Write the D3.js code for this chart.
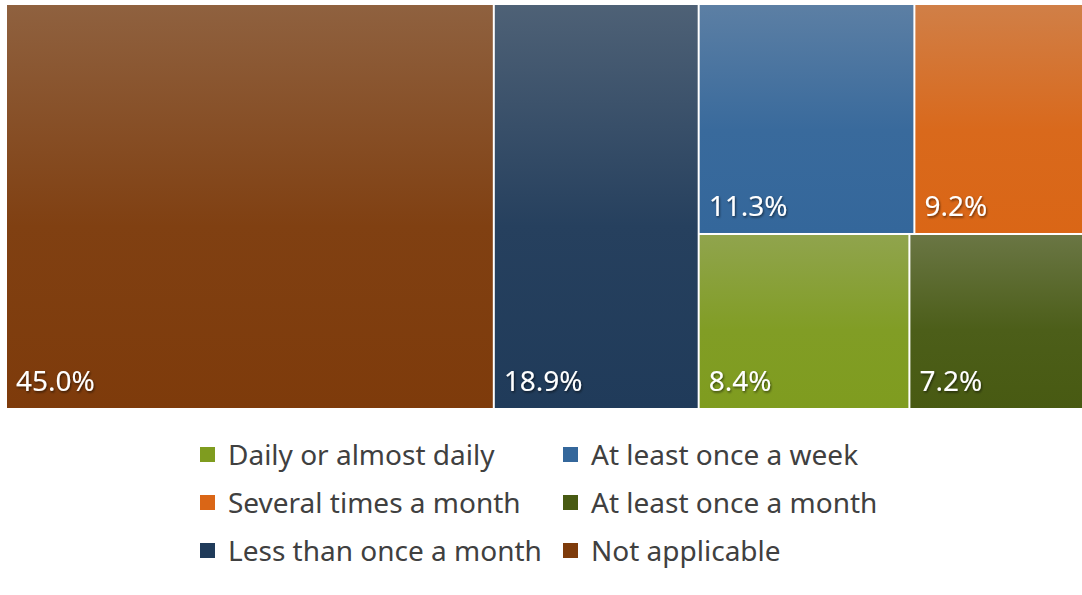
<!DOCTYPE html>
<html>
<head>
<meta charset="utf-8">
<script src="https://cdn.jsdelivr.net/npm/d3@7"></script>
<style>
  body { margin: 0; background: #fff; overflow: hidden; }
  svg { display: block; font-family: "Noto Sans", "Open Sans", sans-serif; }
</style>
</head>
<body>
<svg id="chart" width="1082" height="595"></svg>
<script>
// data
var categories = ["Daily or almost daily", "At least once a week", "Several times a month",
                  "At least once a month", "Less than once a month", "Not applicable"];
var values = [8.4, 11.3, 9.2, 7.2, 18.9, 45.0];
var colors = ["#7f9c1f", "#34679b", "#da6616", "#485a12", "#203b5a", "#7e3b0b"];
// how the cells are grouped in the picture (indices into categories)
var groups = [5, 4, [[1, 2], [0, 3]]];

var svg = d3.select("#chart");

// the plot runs a little past the right edge of the picture
var margin = {top: 5, left: 7, right: -7, bottom: 187};
var width = 1082 - margin.left - margin.right;
var height = 595 - margin.top - margin.bottom;

function toNode(g) {
    if (Array.isArray(g)) return {children: g.map(toNode)};
    return {name: categories[g], value: values[g], index: g};
}

var root = d3.hierarchy(toNode(groups))
    .sum(function(d) { return d.value || 0; });

// columns, then rows, then cells in a row
function tile(node, x0, y0, x1, y1) {
    if (node.depth % 2 === 0) d3.treemapDice(node, x0, y0, x1, y1);
    else d3.treemapSlice(node, x0, y0, x1, y1);
}

d3.treemap()
    .tile(tile)
    .size([width, height])
    .paddingInner(2)(root);

var defs = svg.append("defs");

// soft text shadow for the labels
var shadow = defs.append("filter").attr("id", "shadow")
    .attr("x", "-20%").attr("y", "-20%").attr("width", "140%").attr("height", "140%");
shadow.append("feDropShadow")
    .attr("dx", 1).attr("dy", 1.5).attr("stdDeviation", 1.2)
    .attr("flood-color", "#000").attr("flood-opacity", 0.55);

// each cell fades from a greyish tint at the top to its base colour
categories.forEach(function(c, i) {
    var base = d3.rgb(colors[i]);
    var top = d3.interpolateRgb(base, "#b8b8b8")(0.3);
    var g = defs.append("linearGradient").attr("id", "grad" + i)
        .attr("x1", 0).attr("y1", 0).attr("x2", 0).attr("y2", 1);
    g.append("stop").attr("offset", "0%").attr("stop-color", top);
    g.append("stop").attr("offset", "55%").attr("stop-color", d3.interpolateRgb(base, "#b8b8b8")(0.04));
    g.append("stop").attr("offset", "100%").attr("stop-color", base);
});

var cells = svg.append("g")
    .attr("transform", `translate(${margin.left},${margin.top})`)
    .selectAll("g")
    .data(root.leaves())
    .enter()
    .append("g")
    .attr("transform", function(d) { return `translate(${d.x0},${d.y0})`; });

cells.append("rect")
    .attr("width", function(d) { return d.x1 - d.x0; })
    .attr("height", function(d) { return d.y1 - d.y0; })
    .style("fill", function(d) { return "url(#grad" + d.data.index + ")"; });

cells.append("text")
    .attr("x", 9)
    .attr("y", function(d) { return d.y1 - d.y0 - 17; })
    .text(function(d) { return d3.format(".1f")(d.data.value) + "%"; })
    .style("fill", "#fff")
    .style("font-size", "28px")
    .attr("filter", "url(#shadow)");

// legend, two columns by three rows
var legend = svg.append("g").attr("class", "legend");
var colX = [200, 563];
var rowY = [455, 503, 551];

var items = legend.selectAll("g")
    .data(categories)
    .enter()
    .append("g")
    .attr("transform", function(d, i) {
        return `translate(${colX[i % 2]},${rowY[Math.floor(i / 2)]})`;
    });

items.append("rect")
    .attr("y", -8)
    .attr("width", 15)
    .attr("height", 15)
    .style("fill", function(d, i) { return colors[i]; });

items.append("text")
    .attr("x", 28)
    .attr("dy", "0.35em")
    .text(function(d) { return d; })
    .style("fill", "#404040")
    .style("font-size", "28px");
</script>
</body>
</html>
